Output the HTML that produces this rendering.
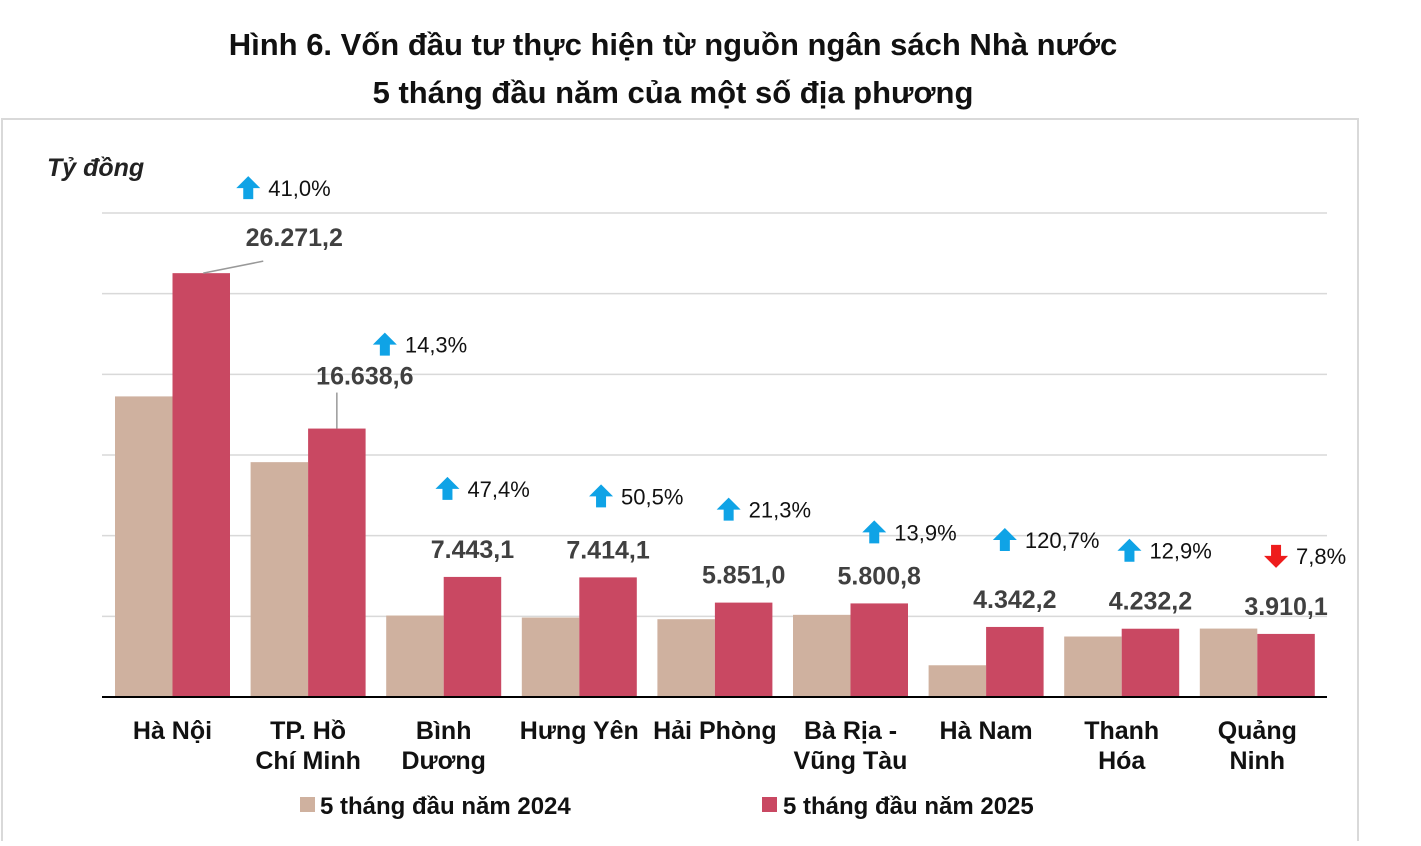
<!DOCTYPE html>
<html><head><meta charset="utf-8"><style>
body{margin:0;background:#fff;width:1421px;height:841px;overflow:hidden;font-family:"Liberation Sans",Arial,sans-serif}
</style></head><body>
<svg width="1421" height="841" xmlns="http://www.w3.org/2000/svg" font-family="Liberation Sans, Arial, sans-serif">
<text x="673" y="55" text-anchor="middle" font-size="31" font-weight="bold" fill="#111">Hình 6. Vốn đầu tư thực hiện từ nguồn ngân sách Nhà nước</text>
<text x="673" y="103" text-anchor="middle" font-size="31" font-weight="bold" fill="#111">5 tháng đầu năm của một số địa phương</text>
<rect x="2" y="119" width="1356" height="740" fill="none" stroke="#d9d9d9" stroke-width="2"/>
<text x="47" y="176" font-size="25" font-weight="bold" font-style="italic" fill="#222">Tỷ đồng</text>
<g id="grid"></g><g id="bars"></g><g id="labels"></g>
<line x1="102" y1="697" x2="1327" y2="697" stroke="#000" stroke-width="2"/>
<rect x="300" y="797" width="15" height="15" fill="#cfb19f"/>
<text x="320" y="814" font-size="24" font-weight="bold" fill="#111">5 tháng đầu năm 2024</text>
<rect x="762" y="797" width="15" height="15" fill="#c94862"/>
<text x="783" y="814" font-size="24" font-weight="bold" fill="#111">5 tháng đầu năm 2025</text>
</svg>
<script>
const categories=[["Hà Nội"],["TP. Hồ","Chí Minh"],["Bình","Dương"],["Hưng Yên"],["Hải Phòng"],["Bà Rịa -","Vũng Tàu"],["Hà Nam"],["Thanh","Hóa"],["Quảng","Ninh"]];
const values2024=[18632,14557,5050,4926,4823,5093,1967,3749,4241];
const values2025=[26271.2,16638.6,7443.1,7414.1,5851.0,5800.8,4342.2,4232.2,3910.1];
const valueLabels=["26.271,2","16.638,6","7.443,1","7.414,1","5.851,0","5.800,8","4.342,2","4.232,2","3.910,1"];
const pctLabels=["41,0%","14,3%","47,4%","50,5%","21,3%","13,9%","120,7%","12,9%","7,8%"];
const pctUp=[true,true,true,true,true,true,true,true,false];
const yTicks=[0,5000,10000,15000,20000,25000,30000];
// layout (pixel offsets for annotations, not data)
const valOff=[[93,-36],[28,-53],[0,-28],[0,-28],[0,-28],[0,-28],[0,-28],[0,-28],[0,-28]];
const pctOff=[[47,-85],[48,-84],[-25,-88],[-7,-81],[-15,-93],[-5,-71],[-10,-87],[-21,-78],[-10,-78]];
const NS="http://www.w3.org/2000/svg";
const y0=697,k=484/30000;
const Y=v=>y0-v*k;
const X=i=>115+i*135.6;
const bw=57.5;
function mk(tag,attrs,parent){const e=document.createElementNS(NS,tag);for(const a in attrs)e.setAttribute(a,attrs[a]);document.getElementById(parent).appendChild(e);return e;}
yTicks.forEach(t=>{if(t===0)return;
 const l=mk('line',{x1:102,x2:1327,y1:Y(t),y2:Y(t),stroke:'#d9d9d9','stroke-width':1.5},'grid');
 
 });
categories.forEach((c,i)=>{
 const x=X(i);
 const b1=mk('rect',{x:x,y:Y(values2024[i]),width:bw,height:values2024[i]*k,fill:'#cfb19f'},'bars');
 
 
 const b2=mk('rect',{x:x+bw,y:Y(values2025[i]),width:bw,height:values2025[i]*k,fill:'#c94862'},'bars');
 
 
 const cx=x+bw*1.5, top=Y(values2025[i]);
 const vx=cx+valOff[i][0], vy=top+valOff[i][1];
 const vt=mk('text',{x:vx,y:vy+9,'text-anchor':'middle','font-size':25,'font-weight':'bold',fill:'#404040'},'labels');
 vt.textContent=valueLabels[i];
 
 
 if(i===0){const ln=mk('polyline',{points:`${cx+2},${top} ${cx+62},${top-12}`,fill:'none',stroke:'#999','stroke-width':1.5},'labels');
  
  }
 if(i===1){const ln=mk('line',{x1:cx,y1:top,x2:cx,y2:top-36,stroke:'#999','stroke-width':1.5},'labels');
  
  }
 const ax=cx+pctOff[i][0], ay=top+pctOff[i][1];
 const pts=pctUp[i]?`${ax},${ay-12} ${ax+12},${ay} ${ax+5},${ay} ${ax+5},${ay+11} ${ax-5},${ay+11} ${ax-5},${ay} ${ax-12},${ay}`:`${ax},${ay+12} ${ax+12},${ay} ${ax+5},${ay} ${ax+5},${ay-11} ${ax-5},${ay-11} ${ax-5},${ay} ${ax-12},${ay}`;
 const ar=mk('polygon',{points:pts,fill:pctUp[i]?'#0fa3e6':'#ee1c1c'},'labels');
 
 
 const pt=mk('text',{x:ax+20,y:ay+8,'font-size':22,fill:'#111'},'labels');
 pt.textContent=pctLabels[i];
 
 
 c.forEach((s,j)=>{const t=mk('text',{x:x+bw,y:739+j*30,'text-anchor':'middle','font-size':25,'font-weight':'bold',fill:'#111'},'labels');
  t.textContent=s;
  
  });
});
</script>
</body></html>
